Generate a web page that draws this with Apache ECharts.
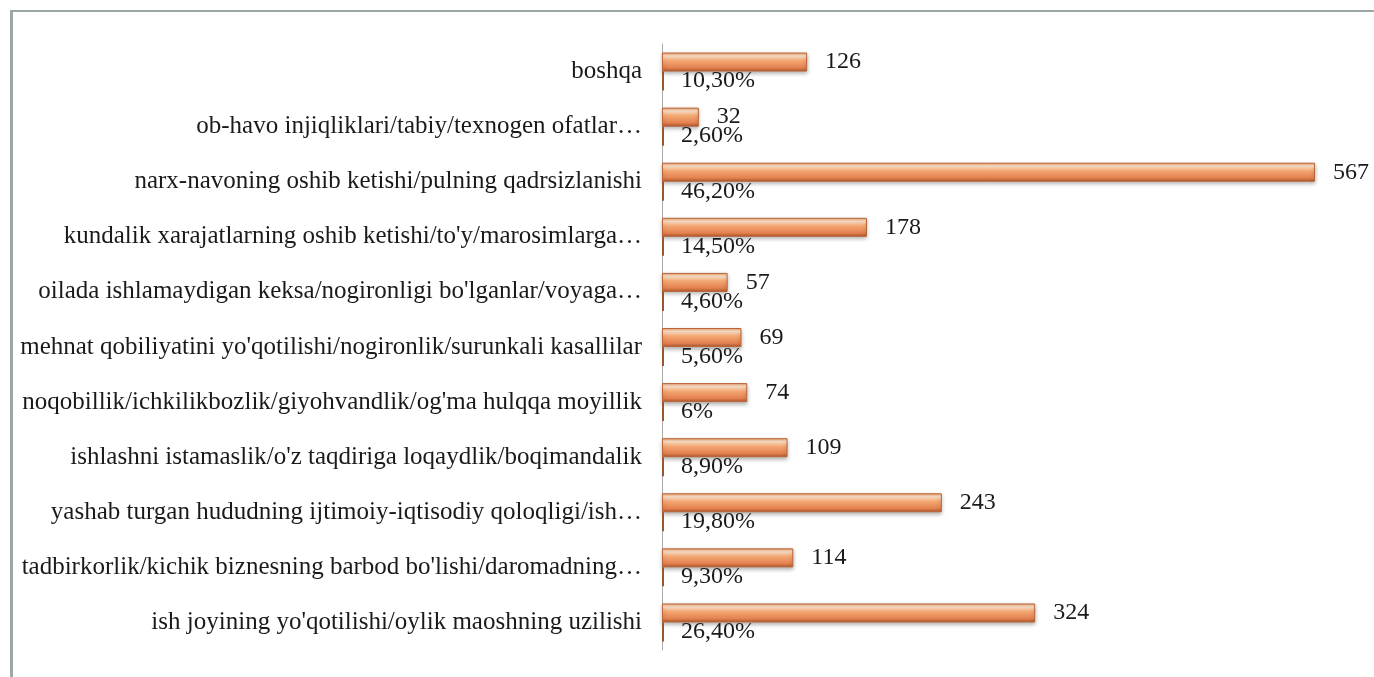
<!DOCTYPE html>
<html>
<head>
<meta charset="utf-8">
<script src="https://cdn.jsdelivr.net/npm/echarts@6/dist/echarts.min.js"></script>
<style>
  html, body { margin: 0; padding: 0; background: #fff; }
  #frame {
    position: absolute; left: 10px; top: 10px; right: 0; bottom: 0;
    border-top: 2px solid #9ba8a3; border-left: 3px solid #9ba8a3;
  }
  #chart_bar { position: absolute; left: 0; top: 0; width: 1374px; height: 677px; }
</style>
</head>
<body>
<div id="frame"></div>
<div id="chart_bar"></div>
<script>
// categories, top to bottom as in the picture
const categories = [
  'boshqa',
  'ob-havo injiqliklari/tabiy/texnogen ofatlar\u2026',
  'narx-navoning oshib ketishi/pulning qadrsizlanishi',
  'kundalik xarajatlarning oshib ketishi/to\'y/marosimlarga\u2026',
  'oilada ishlamaydigan keksa/nogironligi bo\'lganlar/voyaga\u2026',
  'mehnat qobiliyatini yo\'qotilishi/nogironlik/surunkali kasallilar',
  'noqobillik/ichkilikbozlik/giyohvandlik/og\'ma hulqqa moyillik',
  'ishlashni istamaslik/o\'z taqdiriga loqaydlik/boqimandalik',
  'yashab turgan hududning ijtimoiy-iqtisodiy qoloqligi/ish\u2026',
  'tadbirkorlik/kichik biznesning barbod bo\'lishi/daromadning\u2026',
  'ish joyining yo\'qotilishi/oylik maoshning uzilishi'
]
const counts = [126, 32, 567, 178, 57, 69, 74, 109, 243, 114, 324]
const percents = [10.3, 2.6, 46.2, 14.5, 4.6, 5.6, 6, 8.9, 19.8, 9.3, 26.4]

const serif = 'Liberation Serif, Times New Roman, serif'

function pctText(v) {
  if (Number.isInteger(v)) return v + '%'
  return v.toFixed(2).replace('.', ',') + '%'
}

const chart = echarts.init(document.getElementById('chart_bar'))
chart.setOption({
  animation: false,
  grid: { left: 662, right: 59, top: 44, bottom: 27 },
  xAxis: {
    type: 'value',
    min: 0,
    max: 567,
    show: false
  },
  yAxis: {
    type: 'category',
    inverse: true,
    data: categories,
    axisLine: { lineStyle: { color: '#a9a9a9', width: 1 } },
    axisTick: { show: false },
    axisLabel: {
      margin: 20,
      color: '#1a1a1a',
      fontSize: 25,
      fontFamily: serif
    }
  },
  series: [
    {
      name: 'soni',
      type: 'bar',
      data: counts,
      barWidth: 19,
      barGap: '0%',
      itemStyle: {
        color: new echarts.graphic.LinearGradient(0, 0, 0, 1, [
          { offset: 0, color: '#ee9e6c' },
          { offset: 0.18, color: '#fde4cb' },
          { offset: 0.42, color: '#f4a873' },
          { offset: 0.8, color: '#e4814f' },
          { offset: 1, color: '#a9552d' }
        ]),
        borderColor: '#bb6538',
        borderWidth: 1,
        shadowColor: 'rgba(0, 0, 0, 0.3)',
        shadowBlur: 4,
        shadowOffsetY: 2
      },
      label: {
        show: true,
        position: 'right',
        distance: 18,
        color: '#1a1a1a',
        fontSize: 24,
        fontFamily: serif
      }
    },
    {
      name: 'foiz',
      type: 'bar',
      data: percents.map(p => p / 100),
      barWidth: 19,
      barMinHeight: 2,
      itemStyle: { color: '#9a5630' },
      label: {
        show: true,
        position: 'right',
        distance: 17,
        color: '#1a1a1a',
        fontSize: 24,
        fontFamily: serif,
        formatter: params => pctText(percents[params.dataIndex])
      }
    }
  ]
})
</script>
</body>
</html>
